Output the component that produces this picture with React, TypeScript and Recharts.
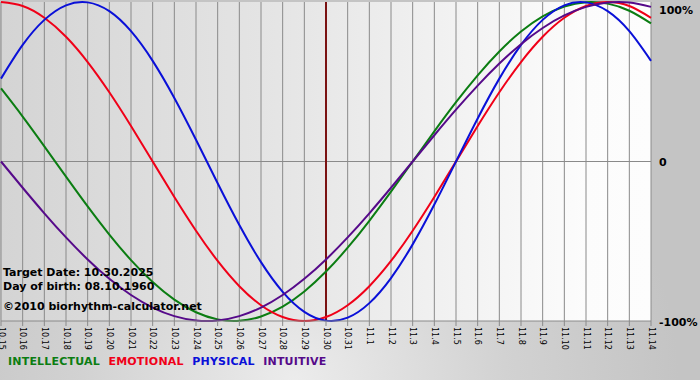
import React from "react";
import { LineChart, Line, XAxis, YAxis, CartesianGrid, ReferenceLine } from "recharts";

const days = [
  "10.15", "10.16", "10.17", "10.18", "10.19", "10.20", "10.21", "10.22", "10.23", "10.24",
  "10.25", "10.26", "10.27", "10.28", "10.29", "10.30", "10.31", "11.1", "11.2", "11.3",
  "11.4", "11.5", "11.6", "11.7", "11.8", "11.9", "11.10", "11.11", "11.12", "11.13", "11.14",
];

const intellectual = [
  0.4582, 0.2817, 0.0951, -0.0951, -0.2817, -0.4582, -0.6182, -0.7557, -0.866, -0.945,
  -0.9898, -0.9989, -0.9718, -0.9096, -0.8146, -0.6901, -0.5406, -0.3717, -0.1893, 0,
  0.1893, 0.3717, 0.5406, 0.6901, 0.8146, 0.9096, 0.9718, 0.9989, 0.9898, 0.945, 0.866,
];

const emotional = [
  1.0, 0.9749, 0.901, 0.7818, 0.6235, 0.4339, 0.2225, 0, -0.2225, -0.4339,
  -0.6235, -0.7818, -0.901, -0.9749, -1.0, -0.9749, -0.901, -0.7818, -0.6235, -0.4339,
  -0.2225, 0, 0.2225, 0.4339, 0.6235, 0.7818, 0.901, 0.9749, 1.0, 0.9749, 0.901,
];

const physical = [
  0.5196, 0.7308, 0.8879, 0.9791, 0.9977, 0.9423, 0.817, 0.631, 0.3984, 0.1362,
  -0.1362, -0.3984, -0.631, -0.817, -0.9423, -0.9977, -0.9791, -0.8879, -0.7308, -0.5196,
  -0.2698, 0, 0.2698, 0.5196, 0.7308, 0.8879, 0.9791, 0.9977, 0.9423, 0.817, 0.631,
];

const intuitive = [
  0, -0.1646, -0.3247, -0.4759, -0.6142, -0.7357, -0.8372, -0.9158, -0.9694, -0.9966,
  -0.9966, -0.9694, -0.9158, -0.8372, -0.7357, -0.6142, -0.4759, -0.3247, -0.1646, 0,
  0.1646, 0.3247, 0.4759, 0.6142, 0.7357, 0.8372, 0.9158, 0.9694, 0.9966, 0.9966, 0.9694,
];

const yTicks = [-1, 0, 1];
const yTickLabels: Record<string, string> = { "-1": "-100%", "0": "0", "1": "100%" };
const targetDay = "10.30";

const legendItems = [
  { name: "INTELLECTUAL", color: "#0b7d12" },
  { name: "EMOTIONAL", color: "#f00018" },
  { name: "PHYSICAL", color: "#0a10d8" },
  { name: "INTUITIVE", color: "#560a8a" },
];

const infoLines = [
  "Target Date: 10.30.2025",
  "Day of birth: 08.10.1960",
  "\u00a92010 biorhythm-calculator.net",
];

const data = days.map((d, i) => ({
  day: d,
  intellectual: intellectual[i],
  emotional: emotional[i],
  physical: physical[i],
  intuitive: intuitive[i],
}));

const FONT = '"DejaVu Sans", Verdana, sans-serif';

const DayTick = (props: any) => {
  const { x, y, payload } = props;
  const ty = y - 1;
  return (
    <text
      x={x}
      y={ty}
      transform={`rotate(90, ${x}, ${ty})`}
      textAnchor="start"
      dominantBaseline="central"
      fontFamily={FONT}
      fontSize={8}
      fill="#000"
    >
      {payload.value}
    </text>
  );
};

const PctTick = (props: any) => {
  const { x, y, payload } = props;
  const ty = Math.max(y + 1, 7);
  return (
    <text
      x={x}
      y={ty}
      textAnchor="start"
      dominantBaseline="central"
      fontFamily={FONT}
      fontWeight="bold"
      fontSize={11}
      fill="#000"
    >
      {yTickLabels[String(payload.value)]}
    </text>
  );
};

export default function App() {
  return (
    <div
      style={{
        position: "relative",
        width: 700,
        height: 380,
        overflow: "hidden",
        background:
          "radial-gradient(ellipse 55% 90% at 42% 100%, #ececec 0%, #d2d2d2 55%, #c4c4c4 100%)",
      }}
    >
      <style>{"body{margin:0}"}</style>
      <div
        style={{
          position: "absolute",
          left: 1,
          top: 2,
          width: 650,
          height: 319,
          background: "linear-gradient(to right, #d4d4d4 0%, #e6e6e6 45%, #fcfcfc 90%, #fdfdfd 100%)",
        }}
      />
      <div style={{ position: "absolute", left: 0, top: 0 }}>
        <LineChart
          width={700}
          height={380}
          data={data}
          margin={{ top: 2, right: 0, left: 1, bottom: 19 }}
        >
          <CartesianGrid horizontal={false} vertical={true} stroke="#8a8a8a" />
          <XAxis
            dataKey="day"
            interval={0}
            height={40}
            tickSize={5}
            tickMargin={2}
            tickLine={{ stroke: "#8a8a8a" }}
            axisLine={{ stroke: "#8a8a8a" }}
            tick={<DayTick />}
          />
          <YAxis
            orientation="right"
            width={49}
            domain={[-1, 1]}
            ticks={yTicks}
            axisLine={false}
            tickLine={false}
            tickSize={6}
            tickMargin={2}
            tick={<PctTick />}
          />
          <ReferenceLine y={0} stroke="#8a8a8a" />
          <ReferenceLine x={targetDay} stroke="#7a1212" strokeWidth={2} />
          <Line type="natural" dataKey="intellectual" stroke="#0b7d12" strokeWidth={2} dot={false} isAnimationActive={false} />
          <Line type="natural" dataKey="emotional" stroke="#f00018" strokeWidth={2} dot={false} isAnimationActive={false} />
          <Line type="natural" dataKey="physical" stroke="#0a10d8" strokeWidth={2} dot={false} isAnimationActive={false} />
          <Line type="natural" dataKey="intuitive" stroke="#560a8a" strokeWidth={2} dot={false} isAnimationActive={false} />
        </LineChart>
      </div>
      {infoLines.map((t, i) => (
        <div
          key={t}
          style={{
            position: "absolute",
            left: 3,
            top: [266, 280, 300][i],
            fontFamily: FONT,
            fontWeight: "bold",
            fontSize: 11,
            lineHeight: "13px",
            color: "#000",
            whiteSpace: "nowrap",
          }}
        >
          {t}
        </div>
      ))}
      <div
        style={{
          position: "absolute",
          left: 8,
          top: 355,
          display: "flex",
          gap: 8.5,
          fontFamily: FONT,
          fontWeight: "bold",
          fontSize: 11,
          letterSpacing: 0.2,
          lineHeight: "13px",
          whiteSpace: "nowrap",
        }}
      >
        {legendItems.map((l) => (
          <span key={l.name} style={{ color: l.color }}>
            {l.name}
          </span>
        ))}
      </div>
    </div>
  );
}
